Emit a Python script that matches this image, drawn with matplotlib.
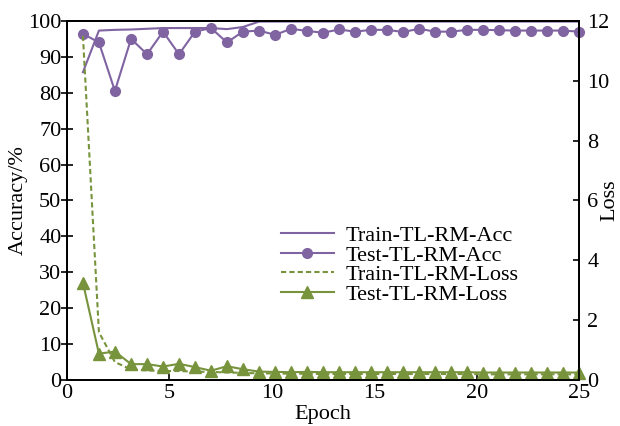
import matplotlib
matplotlib.use("Agg")
import matplotlib.pyplot as plt

# ---- data ----
epochs = [0.78, 1.56, 2.34, 3.13, 3.91, 4.69, 5.47, 6.25, 7.03, 7.81,
          8.59, 9.38, 10.16, 10.94, 11.72, 12.5, 13.28, 14.06, 14.84, 15.63,
          16.41, 17.19, 17.97, 18.75, 19.53, 20.31, 21.09, 21.88, 22.66, 23.44,
          24.22, 25.0]

train_acc = [85.7, 97.3, 97.5, 97.6, 97.8, 98.0, 98.0, 98.0, 98.0, 97.7,
             98.3, 99.8, 99.8, 99.8, 99.8, 99.8, 99.8, 99.8, 99.8, 99.8,
             99.8, 99.8, 99.8, 99.8, 99.8, 99.8, 99.8, 99.8, 99.8, 99.8,
             99.8, 99.8]

test_acc = [96.4, 94.0, 80.5, 95.0, 90.7, 97.0, 90.7, 97.0, 98.0, 94.0,
            97.0, 97.3, 96.1, 97.8, 97.2, 96.7, 97.6, 97.0, 97.5, 97.5,
            96.9, 97.8, 97.0, 97.0, 97.5, 97.5, 97.4, 97.3, 97.3, 97.3,
            97.3, 97.0]

train_loss = [11.5, 1.6, 0.6, 0.35, 0.32, 0.3, 0.3, 0.28, 0.27, 0.25,
              0.24, 0.22, 0.22, 0.21, 0.21, 0.2, 0.2, 0.2, 0.2, 0.2,
              0.2, 0.2, 0.2, 0.2, 0.2, 0.19, 0.19, 0.19, 0.19, 0.19,
              0.19, 0.19]

test_loss = [3.25, 0.88, 0.95, 0.53, 0.53, 0.45, 0.54, 0.43, 0.31, 0.46,
             0.36, 0.28, 0.27, 0.26, 0.27, 0.26, 0.26, 0.26, 0.26, 0.26,
             0.26, 0.26, 0.26, 0.26, 0.26, 0.25, 0.25, 0.25, 0.25, 0.25,
             0.25, 0.25]

PURPLE = "#8064A2"
GREEN = "#77933C"

plt.rcParams["font.family"] = ["Liberation Serif", "DejaVu Serif"]
plt.rcParams["font.size"] = 16

fig = plt.figure(figsize=(6.2, 4.26), dpi=100)
ax1 = fig.add_axes([0.108, 0.108, 0.826, 0.843])
ax2 = ax1.twinx()

# ---- accuracy (left axis) ----
l1, = ax1.plot(epochs, train_acc, color=PURPLE, lw=1.5, label="Train-TL-RM-Acc")
l2, = ax1.plot(epochs, test_acc, color=PURPLE, lw=1.5, marker="o", ms=7,
               clip_on=False, label="Test-TL-RM-Acc")

# ---- loss (right axis) ----
l3, = ax2.plot(epochs, train_loss, color=GREEN, lw=1.5, ls=(0, (2.5, 1.5)),
               label="Train-TL-RM-Loss")
l4, = ax2.plot(epochs, test_loss, color=GREEN, lw=1.5, marker="^", ms=8,
               clip_on=False, label="Test-TL-RM-Loss")

ax1.set_xlim(0, 25)
ax1.set_ylim(0, 100)
ax2.set_ylim(0, 12)
ax1.set_xticks([0, 5, 10, 15, 20, 25])
ax1.set_yticks(range(0, 101, 10))
ax2.set_yticks(range(0, 13, 2))

ax1.tick_params(axis="x", direction="in", length=4, width=1.2, pad=3)
ax1.tick_params(axis="y", direction="inout", length=8, width=1.2, pad=0)
ax2.tick_params(axis="y", direction="in", length=4, width=1.2, pad=6)
for ax in (ax1, ax2):
    for s in ax.spines.values():
        s.set_linewidth(1.3)

ax1.set_xlabel("Epoch", labelpad=1)
ax1.set_ylabel("Accuracy/%", labelpad=0)
ax2.set_ylabel("Loss", labelpad=-7)

ax2.legend(handles=[l1, l2, l3, l4], loc="center left",
           bbox_to_anchor=(0.40, 0.32), frameon=False, handlelength=2.4,
           labelspacing=-0.05, handletextpad=0.5, borderaxespad=0)

fig.savefig("out.png", dpi=100)
